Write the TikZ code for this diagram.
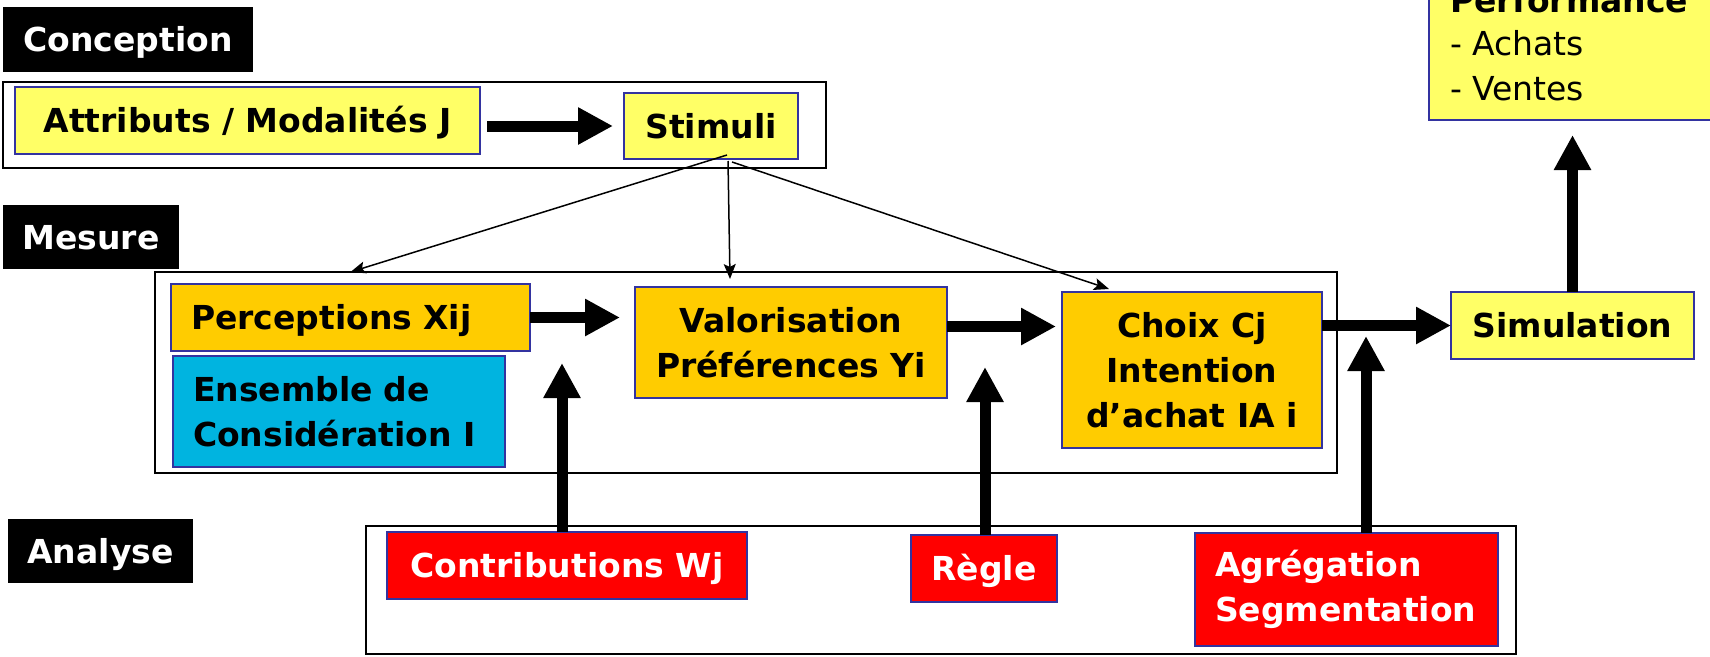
\documentclass[tikz,border=0pt]{standalone}
\usepackage{fontspec}
\setmainfont{DejaVu Sans}
\usetikzlibrary{arrows.meta,calc}
\definecolor{lyellow}{HTML}{FFFF66}
\definecolor{gold}{HTML}{FFCC00}
\definecolor{cyanbox}{HTML}{00B4E0}
\definecolor{redbox}{HTML}{FF0000}
\definecolor{edgeblue}{HTML}{3333A0}
\tikzset{
  base/.style={font=\fontsize{33}{45}\selectfont\bfseries, inner sep=0pt, outer sep=0pt, anchor=north west},
  oneline/.style={text height=24pt, text depth=0pt},
  box/.style={base, draw=edgeblue, line width=2pt},
  ybox/.style={box, fill=lyellow},
  gbox/.style={box, fill=gold},
  cbox/.style={box, fill=cyanbox},
  rbox/.style={box, fill=redbox, text=white},
  tag/.style={base, oneline, fill=black, text=white},
  frame/.style={base, draw=black, line width=2pt},
  bigarrow/.style={line width=11pt, -{Triangle[width=35pt,length=35pt]}},
  thinarrow/.style={line width=1.5pt, -{Stealth[length=15pt,width=12pt,inset=3pt]}},
  plaintext/.style={inner sep=0pt, outer sep=0pt, anchor=base west, font=\fontsize{33}{45}\selectfont},
}
\begin{document}
\begin{tikzpicture}[x=1pt,y=-1pt]
\useasboundingbox (0,0) rectangle (1710,656);
\clip (0,0) rectangle (1710,656);
\fill[white] (0,0) rectangle (1710,656);

% frames
\node[frame, minimum width=823, minimum height=86] (conceptionframe) at (3,82) {};
\node[frame, minimum width=1182, minimum height=201] (mesureframe) at (155,272) {};
\node[frame, minimum width=1150, minimum height=128] (analyseframe) at (366,526) {};

% section tags
\node[tag, minimum width=250, minimum height=65] (conceptiontag) at (3,7) {Conception};
\node[tag, minimum width=176, minimum height=64] (mesuretag) at (3,205) {Mesure};
\node[tag, minimum width=185, minimum height=64] (analysetag) at (8,519) {Analyse};

% conception
\node[ybox, oneline, minimum width=465, minimum height=67] (attributs) at (15,87) {Attributs / Modalités J};
\node[ybox, oneline, minimum width=174, minimum height=66] (stimuli) at (624,93) {Stimuli};

% performance
\node[ybox, minimum width=300, minimum height=150] (perf) at (1429,-30) {};
\node[plaintext, font=\fontsize{33}{45}\selectfont\bfseries] (perftitle) at (1450,12) {Performance};
\node[plaintext] (achats) at (1450,55) {- Achats};
\node[plaintext] (ventes) at (1450,100) {- Ventes};

% mesure
\node[gbox, oneline, minimum width=359, minimum height=67, text width=319, align=left] (perceptions) at (171,284) {Perceptions Xij};
\node[cbox, minimum width=332, minimum height=111, text width=292, align=left] (ensemble) at (173,356) {Ensemble de\\Considération I};
\node[gbox, minimum width=312, minimum height=111, align=center] (valorisation) at (635,287) {Valorisation\\Préférences Yi};
\node[gbox, minimum width=260, minimum height=156, align=center] (choix) at (1062,292) {Choix Cj\\Intention\\d’achat IA i};
\node[ybox, oneline, minimum width=243, minimum height=67] (simulation) at (1451,292) {Simulation};

% analyse
\node[rbox, oneline, minimum width=360, minimum height=67] (contributions) at (387,532) {Contributions Wj};
\node[rbox, oneline, minimum width=146, minimum height=67] (regle) at (911,535) {Règle};
\node[rbox, minimum width=303, minimum height=113, text width=263, align=left] (agregation) at (1195,533) {Agrégation\\Segmentation};

% thick arrows
\draw[bigarrow, shorten <=7pt, shorten >=11pt] (stimuli.west -| attributs.east) -- (stimuli.west);
\draw[bigarrow, shorten >=15pt] (perceptions.east) -- (perceptions.east -| valorisation.west);
\coordinate (vc) at ($(valorisation.east)+(0,-16)$);
\draw[bigarrow, shorten >=6pt] (vc) -- (vc -| choix.west);
\draw[bigarrow] (choix.east |- simulation.west) -- (simulation.west);
\draw[bigarrow, shorten >=15pt] (simulation.north) -- (simulation.north |- perf.south);

\coordinate (t1) at (562,363);
\coordinate (t2) at (985,367);
\coordinate (t3) at (1366,336);
\draw[bigarrow] (contributions.north -| t1) -- (t1);
\draw[bigarrow] (regle.north -| t2) -- (t2);
\draw[bigarrow] (agregation.north -| t3) -- (t3);

% thin arrows from stimuli
\coordinate (s1) at ($(stimuli.south)+(16,-4)$);
\coordinate (s2) at ($(stimuli.south)+(17,2)$);
\coordinate (s3) at ($(stimuli.south)+(21,3)$);
\coordinate (v1) at ($(valorisation.north west)+(95,-8)$);
\coordinate (c1) at ($(choix.north west)+(47,-3)$);
\draw[thinarrow] (s1) -- (perceptions.north |- mesureframe.north);
\draw[thinarrow] (s2) -- (v1);
\draw[thinarrow] (s3) -- (c1);
\end{tikzpicture}
\end{document}
